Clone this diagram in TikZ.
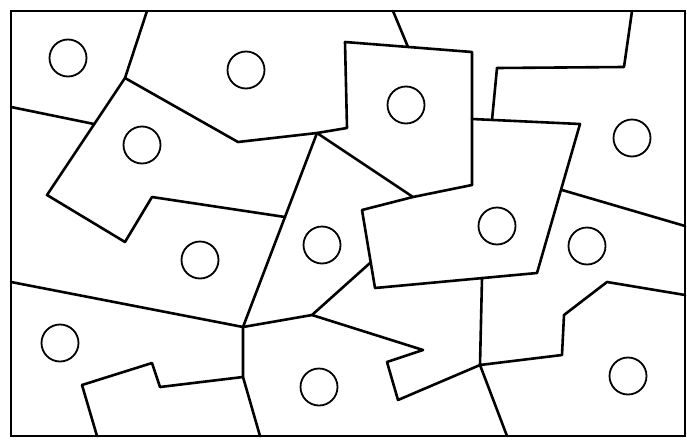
\documentclass[tikz,border=0pt]{standalone}
\begin{document}
\begin{tikzpicture}[x=1pt,y=-1pt,
  edge/.style={line width=2.6pt, line join=round, line cap=round},
  hole/.style={line width=1.8pt}]
\useasboundingbox (0,0) rectangle (687,439);
\fill[white] (0,0) rectangle (687,439);
% points
\coordinate (A) at (147,11);
\coordinate (B) at (125,78);
\coordinate (C) at (238,142);
\coordinate (D) at (317,133);
\coordinate (E) at (347,128);
\coordinate (F) at (345,42);
\coordinate (G) at (408,47);
\coordinate (H) at (393,11);
\coordinate (I) at (472,52);
\coordinate (J) at (472,119);
\coordinate (K) at (472,185);
\coordinate (L) at (413,197);
\coordinate (M) at (362,210);
\coordinate (N) at (375,288);
\coordinate (O) at (537,273);
\coordinate (P) at (580,124);
\coordinate (Q) at (562,190);
\coordinate (R) at (685,226);
\coordinate (S) at (492,120);
\coordinate (T) at (497,68);
\coordinate (U) at (624,67);
\coordinate (V) at (632,11);
\coordinate (W) at (11,107);
\coordinate (X) at (94,124);
\coordinate (Y) at (47,195);
\coordinate (Z) at (125,242);
\coordinate (AA) at (152,197);
\coordinate (BB) at (285,217);
\coordinate (CC) at (243,327);
\coordinate (DD) at (11,282);
\coordinate (EE) at (312,315);
\coordinate (FF) at (370,263);
\coordinate (GG) at (423,350);
\coordinate (HH) at (387,362);
\coordinate (II) at (398,400);
\coordinate (JJ) at (480,365);
\coordinate (KK) at (482,278);
\coordinate (LL) at (562,355);
\coordinate (MM) at (564,315);
\coordinate (NN) at (607,282);
\coordinate (OO) at (685,295);
\coordinate (PP) at (507,436);
\coordinate (QQ) at (243,377);
\coordinate (RR) at (260,436);
\coordinate (SS) at (160,387);
\coordinate (TT) at (152,363);
\coordinate (UU) at (82,385);
\coordinate (VV) at (97,436);
% cuts
\draw[edge] (A) -- (B) -- (Y) -- (Z) -- (AA) -- (BB);
\draw[edge] (B) -- (C) -- (D) -- (E) -- (F) -- (I) -- (K);
\draw[edge] (G) -- (H);
\draw[edge] (W) -- (X);
\draw[edge] (D) -- (CC);
\draw[edge] (D) -- (L);
\draw[edge] (K) -- (L) -- (M) -- (N) -- (O) -- (P) -- (J);
\draw[edge] (T) -- (S);
\draw[edge] (T) -- (U) -- (V);
\draw[edge] (Q) -- (R);
\draw[edge] (DD) -- (CC) -- (EE) -- (FF);
\draw[edge] (EE) -- (GG) -- (HH) -- (II) -- (JJ);
\draw[edge] (CC) -- (QQ) -- (RR);
\draw[edge] (SS) -- (QQ);
\draw[edge] (UU) -- (TT) -- (SS);
\draw[edge] (UU) -- (VV);
\draw[edge] (KK) -- (JJ) -- (LL) -- (MM) -- (NN) -- (OO);
\draw[edge] (JJ) -- (PP);
% frame
\draw[line width=2.6pt] (11,11) rectangle (685,436);
% holes
\foreach \p in {(68,58),(246,70),(406,105),(632,138),(142,145),(200,260),(322,245),(497,226),(587,246),(60,343),(319,387),(628,376)}
  \draw[hole] \p circle (18.5);
\end{tikzpicture}
\end{document}
